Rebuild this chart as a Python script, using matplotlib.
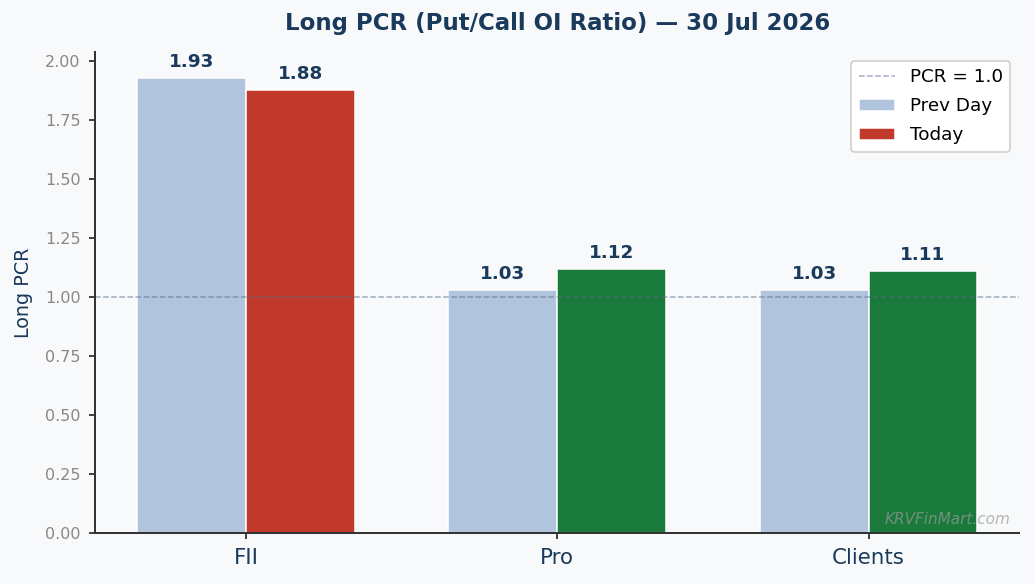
import matplotlib
matplotlib.use("Agg")
import matplotlib.pyplot as plt
import numpy as np

plt.rcParams["font.family"] = ["DejaVu Sans"]

categories = ["FII", "Pro", "Clients"]
prev_day = [1.93, 1.03, 1.03]
today = [1.88, 1.12, 1.11]
today_colors = ["#c0392b", "#1a7a3c", "#1a7a3c"]
title = "Long PCR (Put/Call OI Ratio) — 30 Jul 2026"

bg = "#f8f9fb"
navy = "#1a3a5c"

DPI = 110
fig, ax = plt.subplots(figsize=(1035 / DPI, 584 / DPI), dpi=DPI)
fig.patch.set_facecolor(bg)
ax.set_facecolor(bg)

x = np.arange(len(categories))
w = 0.35
b1 = ax.bar(x - w / 2, prev_day, w, color="#b0c4de", edgecolor="white", linewidth=1.0, label="Prev Day")
b2 = ax.bar(x + w / 2, today, w, color=today_colors, edgecolor="white", linewidth=1.0, label="Today")
ax.axhline(1.0, color="#5a6f8a", linestyle="--", linewidth=1.0, alpha=0.55, label="PCR = 1.0")

for bars, vals in ((b1, prev_day), (b2, today)):
    for r, v in zip(bars, vals):
        ax.annotate(f"{v:.2f}", (r.get_x() + r.get_width() / 2, v), xytext=(0, 4.5),
                    textcoords="offset points", ha="center", va="bottom",
                    fontsize=12, fontweight="bold", color=navy)

ax.set_xticks(x)
ax.set_xticklabels(categories, fontsize=14, color=navy)
ax.tick_params(axis="both", length=4, width=1.2, color="#333333", pad=5.5)
ax.tick_params(axis="y", labelsize=10.5, labelcolor="#888888")
ax.set_ylim(0, 2.04)
ax.set_ylabel("Long PCR", fontsize=12.5, color=navy, labelpad=8)
ax.set_title(title, fontsize=15, fontweight="bold", color=navy, pad=14.5)
for s in ("top", "right"):
    ax.spines[s].set_visible(False)
for s in ("left", "bottom"):
    ax.spines[s].set_color("#333333")
    ax.spines[s].set_linewidth(1.3)

handles, labels = ax.get_legend_handles_labels()
order = [labels.index("PCR = 1.0"), labels.index("Prev Day"), labels.index("Today")]
ax.legend([handles[i] for i in order], [labels[i] for i in order], loc="upper right",
          fontsize=12, framealpha=1, facecolor="white", edgecolor="#cccccc",
          labelspacing=0.6)

ax.text(0.99, 0.012, "KRVFinMart.com", transform=ax.transAxes, ha="right", va="bottom",
        fontsize=10, style="italic", color="#999999", alpha=0.7)

fig.subplots_adjust(left=0.092, right=0.985, top=0.911, bottom=0.087)
fig.savefig("out.png", dpi=DPI, facecolor=bg)
